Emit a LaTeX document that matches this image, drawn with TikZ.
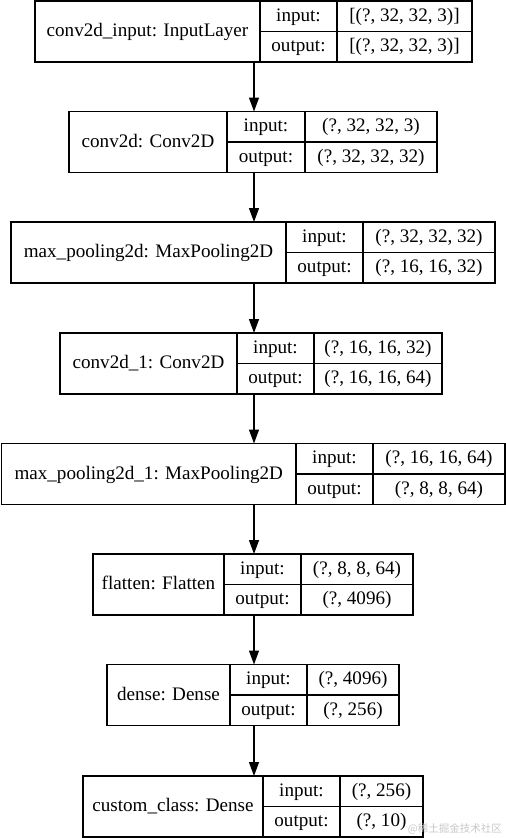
\documentclass[tikz,border=0pt]{standalone}
\usepackage{fontspec}
\setmainfont{Liberation Serif}
\newfontfamily\cjkfont{Noto Sans CJK SC}
\usetikzlibrary{arrows.meta}
\tikzset{
  boxline/.style={line width=1.3pt, draw=black},
  outer/.style={boxline, rectangle, inner sep=0pt, outer sep=0pt},
  txt/.style={anchor=base, inner sep=0pt, font=\fontsize{19.1}{23}\selectfont},
  arr/.style={line width=1.3pt, -{Triangle[length=14pt,width=10pt]}},
  wm/.style={anchor=base east, inner sep=0pt, text=black!22, font=\cjkfont\fontsize{10.5}{12}\selectfont}
}
% #1 name, #2 left, #3 top, #4 divider1, #5 divider2, #6 right, #7 layer text, #8 input, #9 output
\newcommand\layerbox[9]{%
  \pgfmathsetmacro\lbcx{(#2+#6)/2}%
  \pgfmathsetmacro\lbcy{#3+30.5}%
  \pgfmathsetmacro\lbw{#6-#2}%
  \pgfmathsetmacro\lbb{#3+61}%
  \pgfmathsetmacro\lbra{#3+15.25+5}%
  \pgfmathsetmacro\lbrb{#3+45.75+5}%
  \pgfmathsetmacro\lbna{(#2+#4)/2}%
  \pgfmathsetmacro\lbnb{(#4+#5)/2}%
  \pgfmathsetmacro\lbnc{(#5+#6)/2}%
  \node[outer, minimum width=\lbw pt, minimum height=61pt] (#1) at (\lbcx,\lbcy) {};
  \draw[boxline] (#4,#3) -- (#4,\lbb);
  \draw[boxline] (#5,#3) -- (#5,\lbb);
  \draw[boxline] (#4,\lbcy) -- (#6,\lbcy);
  \node[txt] (#1-name) at (\lbna,\lbcy+5) {#7};
  \node[txt] (#1-inl) at (\lbnb,\lbra) {input:};
  \node[txt] (#1-outl) at (\lbnb,\lbrb) {output:};
  \node[txt] (#1-inv) at (\lbnc,\lbra) {#8};
  \node[txt] (#1-outv) at (\lbnc,\lbrb) {#9};
}
\begin{document}
\begin{tikzpicture}[x=1pt,y=-1pt]
\useasboundingbox (0,0) rectangle (506,838);
\coordinate (ax) at (254,0);
\layerbox{L1}{35}{1}{260}{337}{472}{conv2d\_input: InputLayer}{[(?, 32, 32, 3)]}{[(?, 32, 32, 3)]}
\layerbox{L2}{69}{111.5}{227}{305}{437}{conv2d: Conv2D}{(?, 32, 32, 3)}{(?, 32, 32, 32)}
\layerbox{L3}{11}{222}{286}{363}{495}{max\_pooling2d: MaxPooling2D}{(?, 32, 32, 32)}{(?, 16, 16, 32)}
\layerbox{L4}{60}{333}{237}{314}{442}{conv2d\_1: Conv2D}{(?, 16, 16, 32)}{(?, 16, 16, 64)}
\layerbox{L5}{1.5}{443.5}{296}{373}{505}{max\_pooling2d\_1: MaxPooling2D}{(?, 16, 16, 64)}{(?, 8, 8, 64)}
\layerbox{L6}{93}{554}{224}{301}{413}{flatten: Flatten}{(?, 8, 8, 64)}{(?, 4096)}
\layerbox{L7}{107}{664.5}{230}{307}{399}{dense: Dense}{(?, 4096)}{(?, 256)}
\layerbox{L8}{83}{776}{263}{340}{423}{custom\_class: Dense}{(?, 256)}{(?, 10)}
\draw[arr] (L1.south -| ax) -- (L2.north -| ax);
\draw[arr] (L2.south -| ax) -- (L3.north -| ax);
\draw[arr] (L3.south -| ax) -- (L4.north -| ax);
\draw[arr] (L4.south -| ax) -- (L5.north -| ax);
\draw[arr] (L5.south -| ax) -- (L6.north -| ax);
\draw[arr] (L6.south -| ax) -- (L7.north -| ax);
\draw[arr] (L7.south -| ax) -- (L8.north -| ax);
\node[wm] (wmark) at (502,832) {@稀土掘金技术社区};
\end{tikzpicture}
\end{document}
